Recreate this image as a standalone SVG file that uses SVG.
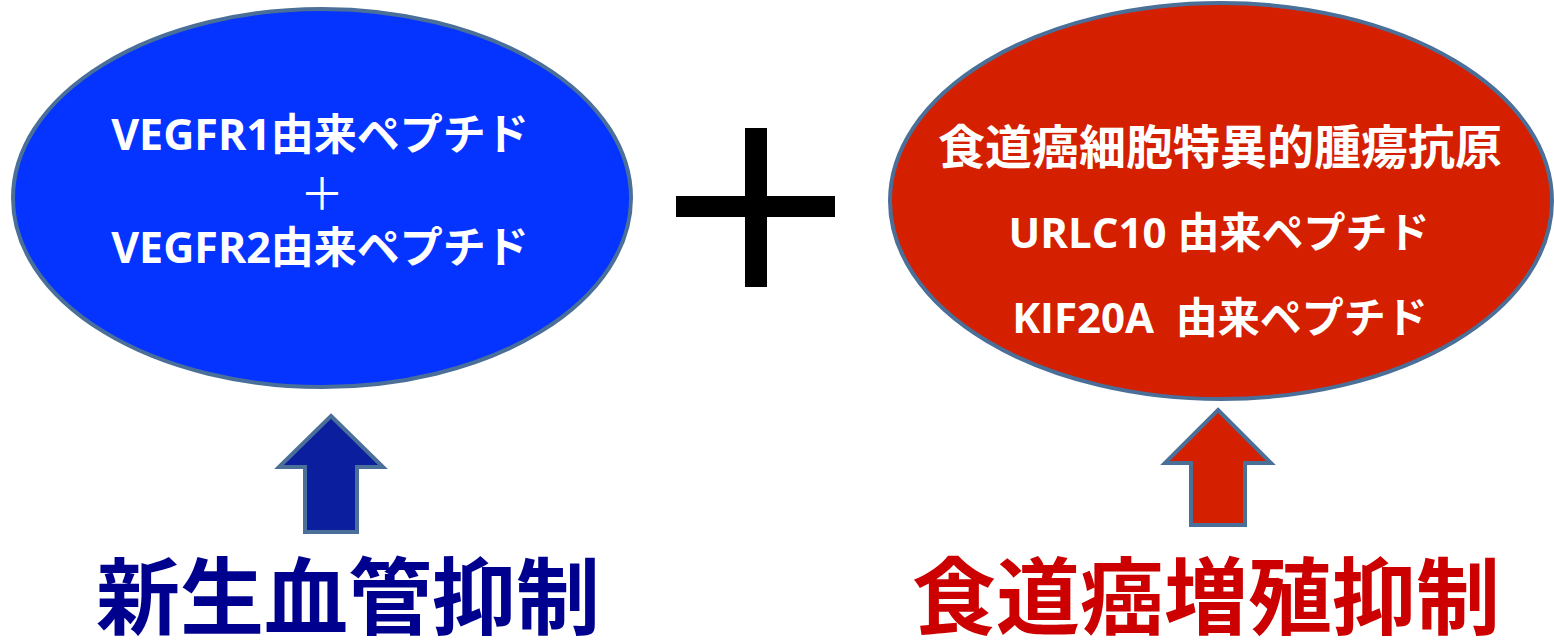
<svg xmlns="http://www.w3.org/2000/svg" width="1554" height="642" viewBox="0 0 1554 642">
<style>
.ell{stroke:#4a6f98;stroke-width:4}
.arr{stroke:#4a6f98;stroke-width:4;stroke-linejoin:miter}
.w{fill:#ffffff;font-family:"Open Sans","Noto Sans CJK JP",sans-serif;font-weight:bold;text-anchor:middle}
.big{font-family:"Noto Sans CJK JP",sans-serif;font-weight:bold;font-size:84px;text-anchor:middle}
</style>
<rect width="1554" height="642" fill="#ffffff"/>
<g id="node-vegfr">
<ellipse class="ell" cx="322" cy="198" rx="309" ry="189" fill="#0533ff"/>
<text class="w" x="320" y="150" font-size="43">VEGFR1由来ペプチド</text>
<text class="w" x="322" y="210" font-size="44" style="font-weight:normal">＋</text>
<text class="w" x="320" y="263" font-size="43">VEGFR2由来ペプチド</text>
</g>
<g id="node-plus">
<rect x="745" y="128" width="22" height="159" fill="#000000"/>
<rect x="676" y="196" width="159" height="21" fill="#000000"/>
</g>
<g id="node-antigen">
<ellipse class="ell" cx="1221" cy="201" rx="331" ry="198" fill="#d41f00"/>
<text class="w" x="1220" y="164" font-size="47">食道癌細胞特異的腫瘍抗原</text>
<text class="w" x="1219" y="248" font-size="42">URLC10 由来ペプチド</text>
<text class="w" x="1220" y="333" font-size="42" xml:space="preserve">KIF20A  由来ペプチド</text>
</g>
<g id="connectors">
<polygon class="arr" points="331,416 383,467 357,467 357,532 305,532 305,467 279,467" fill="#0a1e9e"/>
<polygon class="arr" points="1218,410 1271,463 1245,463 1245,525 1191,525 1191,463 1165,463" fill="#d42000"/>
</g>
<g id="label-left">
<text class="big" x="348" y="628" fill="#00008f">新生血管抑制</text>
</g>
<g id="label-right">
<text class="big" x="1206" y="628" fill="#cc0000">食道癌増殖抑制</text>
</g>
</svg>
